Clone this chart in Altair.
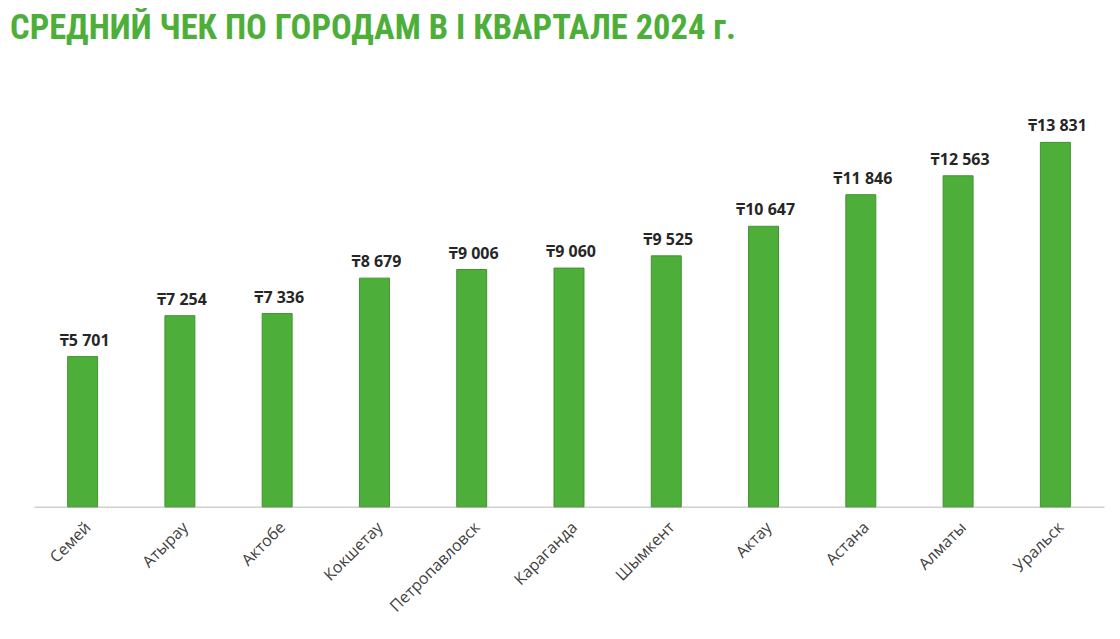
import altair as alt
import pandas as pd

cities = ["Семей", "Атырау", "Актобе", "Кокшетау", "Петропавловск", "Караганда",
          "Шымкент", "Актау", "Астана", "Алматы", "Уральск"]
values = [5701, 7254, 7336, 8679, 9006, 9060, 9525, 10647, 11846, 12563, 13831]
labels = ["₸" + f"{v:,}".replace(",", " ") for v in values]

df = pd.DataFrame({"city": cities, "value": values, "label": labels})

x = alt.X("city:N", sort=cities, title=None,
          scale=alt.Scale(paddingInner=0.69, paddingOuter=0.345),
          axis=alt.Axis(labelAngle=-45, labelFont="Open Sans", labelFontSize=16,
                        labelColor="#404040", ticks=False, domainColor="#d0d0d0",
                        domainWidth=1.5, labelPadding=12))
y = alt.Y("value:Q", title=None, scale=alt.Scale(domain=[0, 16000], nice=False),
          axis=None)

bars = alt.Chart(df).mark_bar(size=30, color="#4EAE3A", stroke="#3F952F",
                              strokeWidth=1).encode(x=x, y=y)
text = alt.Chart(df).mark_text(dy=-8, dx=2, baseline="bottom", font="Noto Sans",
                               fontWeight="bold", fontSize=16, color="#262626").encode(
    x=alt.X("city:N", sort=cities), y="value:Q", text="label:N")

chart = (bars + text).properties(
    width=1071, height=422,
    autosize=alt.AutoSizeParams(type="none"),
    padding={"left": 26, "top": 77, "right": 8, "bottom": 120},
    title=alt.TitleParams("СРЕДНИЙ ЧЕК ПО ГОРОДАМ В I КВАРТАЛЕ 2024 г.",
                          anchor="start", dx=-24, offset=39,
                          font="Roboto Condensed, Roboto", fontSize=34.5,
                          fontWeight="bold", color="#4EAE3A"),
).configure_view(stroke=None)

chart.save("out.html", embed_options={"renderer": "svg", "actions": False})
